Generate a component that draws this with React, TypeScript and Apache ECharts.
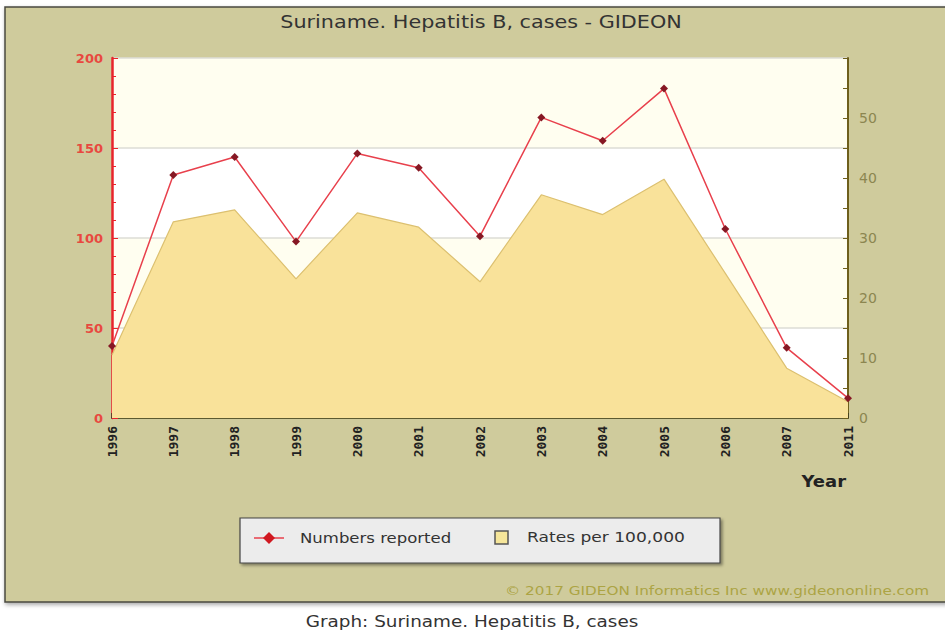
import React, { useEffect, useRef } from "react";
import * as echarts from "echarts";

const years = ["1996", "1997", "1998", "1999", "2000", "2001", "2002", "2003", "2004", "2005", "2006", "2007", "2011"];
const numbersReported = [40, 135, 145, 98, 147, 139, 101, 167, 154, 183, 105, 39, 11];
const ratesPer100k = [10.5, 32.7, 34.7, 23.2, 34.2, 31.8, 22.7, 37.2, 33.9, 39.8, 24.1, 8.3, 2.7];
const leftTicks = { min: 0, max: 200, interval: 50 };
const rightTicks = { min: 0, max: 60, interval: 10 };

const titleText = "Suriname. Hepatitis B, cases - GIDEON";
const captionText = "Graph: Suriname. Hepatitis B, cases";
const footerText = "\u00a9 2017 GIDEON Informatics Inc www.gideononline.com";
const legendNames = ["Numbers reported", "Rates per 100,000"];

const FONT = "DejaVu Sans";

export default function App() {
  const ref = useRef<HTMLDivElement>(null);
  useEffect(() => {
    if (!ref.current) return;
    const chart = echarts.init(ref.current, undefined, { renderer: "svg" });
    chart.setOption({
      animation: false,
      backgroundColor: "#ffffff",
      textStyle: { fontFamily: FONT },
      grid: { left: 112, right: 97, top: 58, bottom: 216 },
      xAxis: {
        type: "category",
        data: years,
        boundaryGap: false,
        axisLine: { lineStyle: { color: "#5c5a30", width: 2 } },
        axisTick: { show: true, inside: true, length: 5, lineStyle: { color: "#3c3a20", width: 1.5 } },
        axisLabel: {
          rotate: 90,
          margin: 8,
          color: "#222",
          fontFamily: "DejaVu Sans Mono",
          fontWeight: "bold",
          fontSize: 13,
          interval: 0,
        },
        splitLine: { show: false },
      },
      yAxis: [
        {
          type: "value",
          min: leftTicks.min,
          max: leftTicks.max,
          interval: leftTicks.interval,
          axisLine: { show: true, lineStyle: { color: "#e8242c", width: 2.5 } },
          axisTick: { show: true, inside: true, length: 6, lineStyle: { color: "#e8242c" } },
          minorTick: { show: true, splitNumber: 5, length: 4, lineStyle: { color: "#e8242c" } },
          axisLabel: { color: "#e8483f", fontFamily: FONT, fontWeight: "bold", fontSize: 13, margin: 9 },
          splitLine: { show: true, lineStyle: { color: "#dcdcd6", width: 1.5 } },
          splitArea: { show: true, areaStyle: { color: ["#ffffff", "#fffef0"] } },
        },
        {
          type: "value",
          min: rightTicks.min,
          max: rightTicks.max,
          interval: rightTicks.interval,
          position: "right",
          axisLine: { show: true, lineStyle: { color: "#6e5f1c", width: 2 } },
          axisTick: { show: true, inside: true, length: 5, lineStyle: { color: "#6e5f1c" } },
          minorTick: { show: true, splitNumber: 2, length: 5, lineStyle: { color: "#6e5f1c" } },
          axisLabel: { color: "#8c8650", fontFamily: FONT, fontSize: 14, margin: 11, showMaxLabel: false },
          splitLine: { show: false },
        },
      ],
      series: [
        {
          name: legendNames[1],
          type: "line",
          yAxisIndex: 1,
          data: ratesPer100k,
          showSymbol: false,
          symbol: "none",
          lineStyle: { color: "#dcc070", width: 1.2 },
          areaStyle: { color: "#f9e29a", opacity: 1 },
          itemStyle: { color: "#f9e29a" },
          z: 1,
        },
        {
          name: legendNames[0],
          type: "line",
          yAxisIndex: 0,
          data: numbersReported,
          symbol: "diamond",
          symbolSize: 8,
          lineStyle: { color: "#e8404c", width: 1.5 },
          itemStyle: { color: "#861824" },
          z: 3,
        },
      ],
      graphic: [
        {
          type: "rect",
          z: -10,
          shape: { x: 5, y: 7, width: 960, height: 595 },
          style: { fill: "#cfcb9c", stroke: "#4a4a40", lineWidth: 1.5, shadowBlur: 4, shadowColor: "rgba(0,0,0,0.35)", shadowOffsetX: 1, shadowOffsetY: 2 },
        },
        {
          type: "text",
          x: 481,
          y: 22,
          scaleX: 1.22,
          style: { text: titleText, fontFamily: FONT, fontSize: 17, fill: "#333333", align: "center", verticalAlign: "middle" },
        },
        {
          type: "text",
          x: 846,
          y: 482,
          scaleX: 1.2,
          style: { text: "Year", fontFamily: FONT, fontSize: 15, fontWeight: "bold", fill: "#222", align: "right", verticalAlign: "middle" },
        },
        {
          type: "rect",
          shape: { x: 240, y: 518, width: 480, height: 45 },
          style: { fill: "#ececec", stroke: "#444", lineWidth: 1.2, shadowBlur: 3, shadowColor: "rgba(0,0,0,0.4)", shadowOffsetX: 2, shadowOffsetY: 2 },
        },
        {
          type: "line",
          shape: { x1: 254, y1: 538, x2: 284, y2: 538 },
          style: { stroke: "#e8404c", lineWidth: 1.5 },
        },
        {
          type: "polygon",
          shape: { points: [[269, 532], [275, 538], [269, 544], [263, 538]] },
          style: { fill: "#d01820" },
        },
        {
          type: "text",
          x: 300,
          y: 538,
          scaleX: 1.18,
          style: { text: legendNames[0], fontFamily: FONT, fontSize: 14, fill: "#333", verticalAlign: "middle" },
        },
        {
          type: "rect",
          shape: { x: 495, y: 531, width: 13, height: 13 },
          style: { fill: "#f6e69a", stroke: "#555", lineWidth: 1.5 },
        },
        {
          type: "text",
          x: 527,
          y: 538,
          scaleX: 1.22,
          style: { text: legendNames[1], fontFamily: FONT, fontSize: 14, fill: "#333", verticalAlign: "middle" },
        },
        {
          type: "text",
          x: 505,
          y: 591,
          scaleX: 1.22,
          style: { text: footerText, fontFamily: FONT, fontSize: 12.5, fill: "#aca444", verticalAlign: "middle" },
        },
        {
          type: "text",
          x: 472,
          y: 621,
          scaleX: 1.15,
          style: { text: captionText, fontFamily: FONT, fontSize: 16, fill: "#333", align: "center", verticalAlign: "middle" },
        },
      ],
    });
    return () => chart.dispose();
  }, []);
  return (
    <div
      ref={ref}
      style={{ position: "absolute", left: 0, top: 0, width: 945, height: 634 }}
    />
  );
}
